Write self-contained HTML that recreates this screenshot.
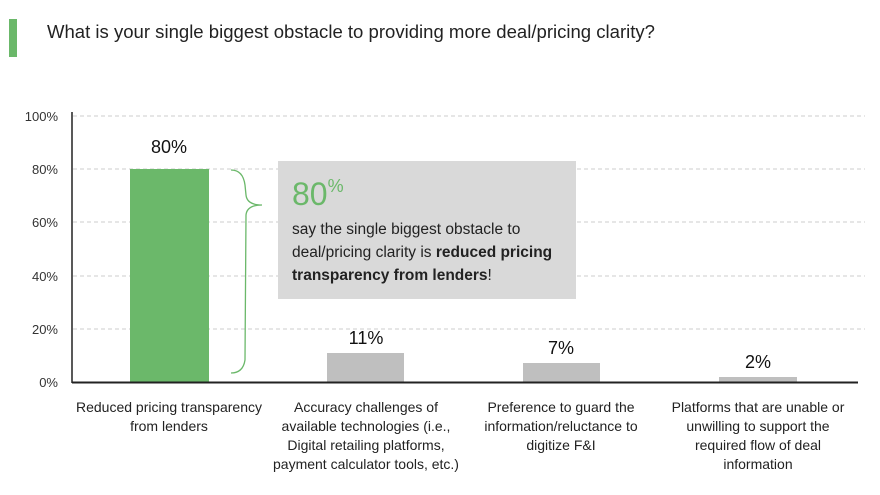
<!DOCTYPE html>
<html><head><style>html,body{margin:0;padding:0;background:#fff}svg{display:block}</style></head><body>
<svg width="880" height="495" viewBox="0 0 880 495" xmlns="http://www.w3.org/2000/svg" font-family="Liberation Sans, sans-serif">
<rect x="9" y="19" width="8" height="38" fill="#6bb86a"/>
<text x="47" y="38" font-size="18" fill="#222" textLength="608" lengthAdjust="spacingAndGlyphs">What is your single biggest obstacle to providing more deal/pricing clarity?</text>
<g stroke="#ccc" stroke-dasharray="4,3" stroke-width="1">
<line x1="73" y1="116" x2="865" y2="116"/><line x1="73" y1="169" x2="865" y2="169"/>
<line x1="73" y1="222" x2="865" y2="222"/><line x1="73" y1="276" x2="865" y2="276"/>
<line x1="73" y1="329" x2="865" y2="329"/></g>
<g font-size="13" fill="#333" text-anchor="end">
<text x="58" y="121">100%</text><text x="58" y="174">80%</text><text x="58" y="227">60%</text>
<text x="58" y="281">40%</text><text x="58" y="334">20%</text><text x="58" y="387">0%</text></g>
<rect x="130" y="169" width="79" height="213" fill="#6bb86a"/>
<rect x="327" y="353" width="77" height="29" fill="#bfbfbf"/>
<rect x="523" y="363" width="77" height="19" fill="#bfbfbf"/>
<rect x="719" y="377" width="78" height="5" fill="#bfbfbf"/>
<line x1="72" y1="112" x2="72" y2="383" stroke="#222" stroke-width="1.5"/>
<line x1="72" y1="382.5" x2="858" y2="382.5" stroke="#222" stroke-width="2"/>
<g font-size="18" fill="#111" text-anchor="middle">
<text x="169" y="153">80%</text><text x="366" y="344">11%</text><text x="561" y="354">7%</text><text x="758" y="368">2%</text></g>
<path d="M231 170 Q243 170 245 185 L246 195 Q247 205 262 205 Q247 205 246 215 L245 360 Q243 373 231 373" fill="none" stroke="#6bb86a" stroke-width="1.3"/>
<rect x="278" y="161" width="298" height="138" fill="#d9d9d9"/>
<text x="292" y="205" font-size="32" fill="#6bb86a">80<tspan font-size="18" dy="-13">%</tspan></text>
<g font-size="15.5" fill="#222">
<text x="292" y="234">say the single biggest obstacle to</text>
<text x="292" y="257">deal/pricing clarity is <tspan font-weight="bold">reduced pricing</tspan></text>
<text x="292" y="280"><tspan font-weight="bold">transparency from lenders</tspan>!</text></g>
<g font-size="14" fill="#222" text-anchor="middle">
<text x="169" y="412">Reduced pricing transparency</text><text x="169" y="431">from lenders</text>
<text x="366" y="412">Accuracy challenges of</text><text x="366" y="431">available technologies (i.e.,</text>
<text x="366" y="450">Digital retailing platforms,</text><text x="366" y="469">payment calculator tools, etc.)</text>
<text x="561" y="412">Preference to guard the</text><text x="561" y="431">information/reluctance to</text><text x="561" y="450">digitize F&amp;I</text>
<text x="758" y="412">Platforms that are unable or</text><text x="758" y="431">unwilling to support the</text>
<text x="758" y="450">required flow of deal</text><text x="758" y="469">information</text></g>
</svg>
</body></html>
